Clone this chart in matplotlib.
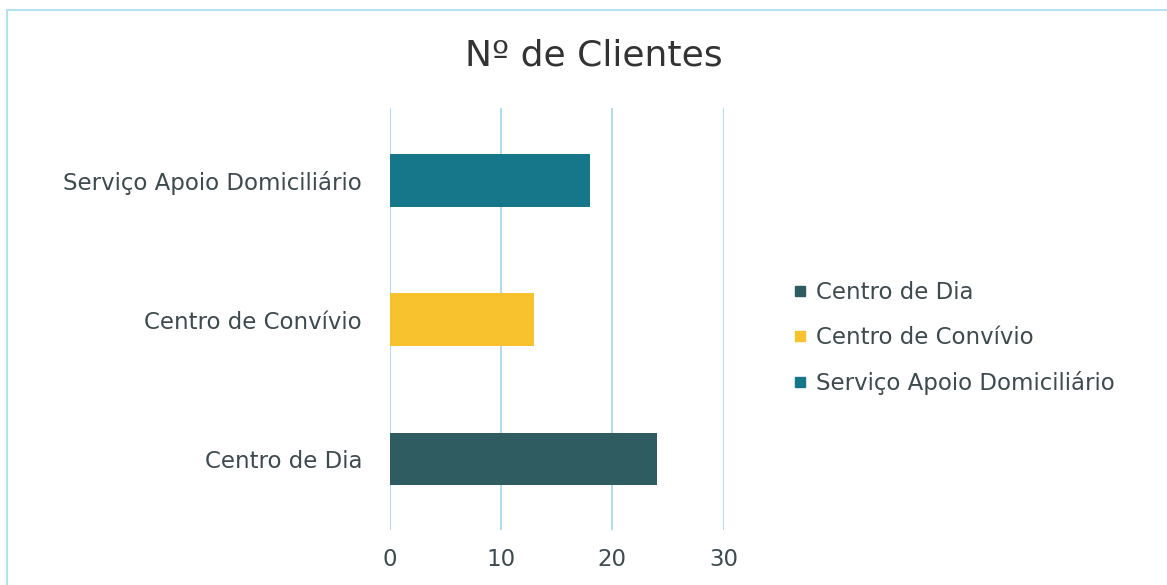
import matplotlib.pyplot as plt
from matplotlib.patches import Rectangle
from matplotlib.lines import Line2D

# Dados
categorias = ['Centro de Dia', 'Centro de Convívio', 'Serviço Apoio Domiciliário']
clientes = [24, 13, 18]
cores = ['#2f5c60', '#f7c22e', '#17778a']
ticks_x = [0, 10, 20, 30]

plt.rcParams['font.family'] = ['DejaVu Sans']
cor_texto = '#3e4a4e'

fig = plt.figure(figsize=(11.67, 5.85), dpi=100)
ax = fig.add_axes([0.334, 0.094, 0.286, 0.721])

for i, (cat, val, cor) in enumerate(zip(categorias, clientes, cores)):
    ax.barh(i, val, height=0.38, color=cor, label=cat, zorder=3)

ax.set_xlim(0, 30)
ax.set_ylim(-0.51, 2.52)
ax.set_xticks(ticks_x)
ax.set_yticks(range(len(categorias)))
ax.set_yticklabels(categorias)
ax.tick_params(axis='both', length=0, labelsize=16.5, labelcolor=cor_texto)
ax.tick_params(axis='y', pad=20)
ax.tick_params(axis='x', pad=13)
ax.grid(axis='x', color='#a9d9ee', linewidth=1.3, zorder=0)
for s in ax.spines.values():
    s.set_visible(False)

fig.text(0.509, 0.905, 'Nº de Clientes', ha='center', va='center',
         fontsize=26, color='#333333')

# Legenda
handles = [Line2D([], [], marker='s', linestyle='none', markersize=7,
                  markerfacecolor=c, markeredgecolor=c) for c in cores]
fig.legend(handles, categorias, loc='center left', bbox_to_anchor=(0.66, 0.422),
           frameon=False, fontsize=16.5, labelcolor=cor_texto, handletextpad=0.3,
           labelspacing=0.95, handlelength=0.8)

# Moldura do gráfico
fig.patches.append(Rectangle((0.006, -0.01), 1.0, 0.993, transform=fig.transFigure,
                             fill=False, edgecolor='#b5e0ef', linewidth=1.5))

fig.savefig('out.png', dpi=100)
